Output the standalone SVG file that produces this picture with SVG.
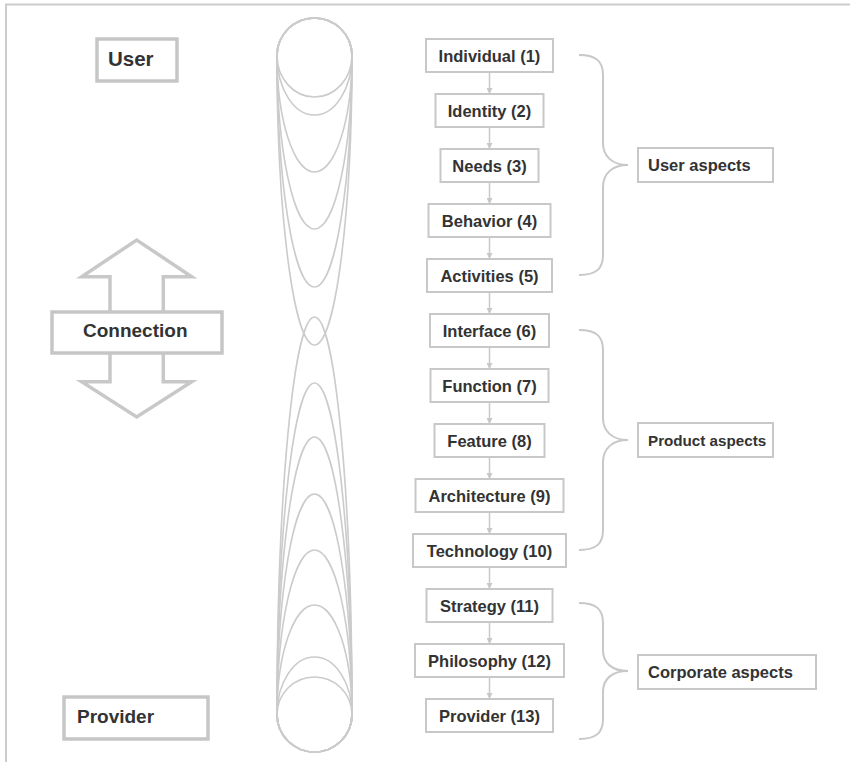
<svg xmlns="http://www.w3.org/2000/svg" width="850" height="762" viewBox="0 0 850 762">
<defs>
<style>
.frame{stroke:#cccccc;stroke-width:2;fill:none}
.ell{fill:none;stroke:#cbcbcb;stroke-width:1.6}
.box{fill:#ffffff;stroke:#c8c8c8;stroke-width:2}
.bigbox{fill:#ffffff;stroke:#c6c6c6;stroke-width:3.5}
.t{font-family:"Liberation Sans",Arial,sans-serif;font-weight:bold;font-size:16.5px;fill:#333333}
.tc{text-anchor:middle}
.tl{font-family:"Liberation Sans",Arial,sans-serif;font-weight:bold;fill:#333333}
.brace{fill:none;stroke:#c8c8c8;stroke-width:2}
.dbl{fill:none;stroke:#c8c8c8;stroke-width:3.5;stroke-linejoin:miter}
.conn{stroke:#c8c8c8;stroke-width:1.5;fill:none}
</style>
<marker id="ah" viewBox="0 0 10 10" refX="10" refY="5" markerWidth="6" markerHeight="6" markerUnits="userSpaceOnUse" orient="auto">
<path d="M0,0 L10,5 L0,10 z" fill="#c8c8c8"/>
</marker>
</defs>
<rect width="850" height="762" fill="#ffffff"/>
<path class="frame" d="M6,762 L6,4.5 L850,4.5"/>

<g id="spindle">
<path class="ell" d="M277,55.5 A37.5,37.5 0 0 1 352,55.5 A37.5,41.5 0 0 1 277,55.5 Z"/>
<path class="ell" d="M277,55.5 A37.5,37.5 0 0 1 352,55.5 A37.5,59.5 0 0 1 277,55.5 Z"/>
<path class="ell" d="M277,55.5 A37.5,37.5 0 0 1 352,55.5 A37.5,116.5 0 0 1 277,55.5 Z"/>
<path class="ell" d="M277,55.5 A37.5,37.5 0 0 1 352,55.5 A37.5,173.5 0 0 1 277,55.5 Z"/>
<path class="ell" d="M277,55.5 A37.5,37.5 0 0 1 352,55.5 A37.5,231.5 0 0 1 277,55.5 Z"/>
<path class="ell" d="M277,55.5 A37.5,37.5 0 0 1 352,55.5 A37.5,289.5 0 0 1 277,55.5 Z"/>
<path class="ell" d="M277,714.5 A37.5,397.5 0 0 1 352,714.5 A37.5,37.5 0 0 1 277,714.5 Z"/>
<path class="ell" d="M277,714.5 A37.5,331.5 0 0 1 352,714.5 A37.5,37.5 0 0 1 277,714.5 Z"/>
<path class="ell" d="M277,714.5 A37.5,277.5 0 0 1 352,714.5 A37.5,37.5 0 0 1 277,714.5 Z"/>
<path class="ell" d="M277,714.5 A37.5,220.5 0 0 1 352,714.5 A37.5,37.5 0 0 1 277,714.5 Z"/>
<path class="ell" d="M277,714.5 A37.5,164.5 0 0 1 352,714.5 A37.5,37.5 0 0 1 277,714.5 Z"/>
<path class="ell" d="M277,714.5 A37.5,109.5 0 0 1 352,714.5 A37.5,37.5 0 0 1 277,714.5 Z"/>
<path class="ell" d="M277,714.5 A37.5,57.5 0 0 1 352,714.5 A37.5,37.5 0 0 1 277,714.5 Z"/>
<circle class="ell" cx="314.5" cy="714.5" r="37.5"/>
</g>

<g id="user">
<rect class="bigbox" x="97" y="39" width="80" height="42"/>
<text class="tl" x="108" y="66" font-size="20.5">User</text>
</g>

<g id="connection">
<polyline class="dbl" points="110,312 110,276.7 81.7,276.7 136.7,240 191.7,276.7 163.3,276.7 163.3,312"/>
<polyline class="dbl" points="110,352.7 110,381.7 81.7,381.7 136.7,417 191.7,381.7 163.3,381.7 163.3,352.7"/>
<rect class="bigbox" x="52" y="312" width="170" height="41" stroke-width="3"/>
<text class="tl" x="83" y="337" font-size="19">Connection</text>
</g>

<g id="provider-left">
<rect class="bigbox" x="64" y="697" width="144" height="42"/>
<text class="tl" x="77" y="723" font-size="19">Provider</text>
</g>

<g id="connectors">
<line class="conn" x1="489.5" y1="72" x2="489.5" y2="94" marker-end="url(#ah)"/>
<line class="conn" x1="489.5" y1="127" x2="489.5" y2="149" marker-end="url(#ah)"/>
<line class="conn" x1="489.5" y1="182" x2="489.5" y2="204" marker-end="url(#ah)"/>
<line class="conn" x1="489.5" y1="237" x2="489.5" y2="259" marker-end="url(#ah)"/>
<line class="conn" x1="489.5" y1="292" x2="489.5" y2="314" marker-end="url(#ah)"/>
<line class="conn" x1="489.5" y1="347" x2="489.5" y2="369" marker-end="url(#ah)"/>
<line class="conn" x1="489.5" y1="402" x2="489.5" y2="424" marker-end="url(#ah)"/>
<line class="conn" x1="489.5" y1="457" x2="489.5" y2="479" marker-end="url(#ah)"/>
<line class="conn" x1="489.5" y1="512" x2="489.5" y2="534" marker-end="url(#ah)"/>
<line class="conn" x1="489.5" y1="567" x2="489.5" y2="589" marker-end="url(#ah)"/>
<line class="conn" x1="489.5" y1="622" x2="489.5" y2="644" marker-end="url(#ah)"/>
<line class="conn" x1="489.5" y1="677" x2="489.5" y2="699" marker-end="url(#ah)"/>
</g>

<g id="n1"><rect class="box" x="426" y="39" width="127" height="33"/><text class="t tc" x="489.5" y="61.5">Individual (1)</text></g>
<g id="n2"><rect class="box" x="435.5" y="94" width="108" height="33"/><text class="t tc" x="489.5" y="116.5">Identity (2)</text></g>
<g id="n3"><rect class="box" x="440.5" y="149" width="98" height="33"/><text class="t tc" x="489.5" y="171.5">Needs (3)</text></g>
<g id="n4"><rect class="box" x="428.5" y="204" width="122" height="33"/><text class="t tc" x="489.5" y="226.5">Behavior (4)</text></g>
<g id="n5"><rect class="box" x="427" y="259" width="125" height="33"/><text class="t tc" x="489.5" y="281.5">Activities (5)</text></g>
<g id="n6"><rect class="box" x="430" y="314" width="119" height="33"/><text class="t tc" x="489.5" y="336.5">Interface (6)</text></g>
<g id="n7"><rect class="box" x="430.5" y="369" width="118" height="33"/><text class="t tc" x="489.5" y="391.5">Function (7)</text></g>
<g id="n8"><rect class="box" x="434.5" y="424" width="110" height="33"/><text class="t tc" x="489.5" y="446.5">Feature (8)</text></g>
<g id="n9"><rect class="box" x="415.5" y="479" width="148" height="33"/><text class="t tc" x="489.5" y="501.5">Architecture (9)</text></g>
<g id="n10"><rect class="box" x="413" y="534" width="153" height="33"/><text class="t tc" x="489.5" y="556.5">Technology (10)</text></g>
<g id="n11"><rect class="box" x="426.5" y="589" width="126" height="33"/><text class="t tc" x="489.5" y="611.5">Strategy (11)</text></g>
<g id="n12"><rect class="box" x="415" y="644" width="149" height="33"/><text class="t tc" x="489.5" y="666.5">Philosophy (12)</text></g>
<g id="n13"><rect class="box" x="426" y="699" width="127" height="33"/><text class="t tc" x="489.5" y="721.5">Provider (13)</text></g>

<g id="user-aspects">
<path class="brace" d="M579,55 C597,55 603,62 603,75 L603,143 C603,156 612,165 628,165 C612,165 603,174 603,187 L603,255 C603,268 597,275 579,275"/>
<rect class="box" x="638" y="148" width="135" height="34"/>
<text class="t" x="648" y="171">User aspects</text>
</g>
<g id="product-aspects">
<path class="brace" d="M579,330 C597,330 603,337 603,350 L603,418 C603,431 612,440 628,440 C612,440 603,449 603,462 L603,530 C603,543 597,550 579,550"/>
<rect class="box" x="638" y="423" width="135" height="34"/>
<text class="t" x="648" y="446" style="font-size:15.2px">Product aspects</text>
</g>
<g id="corporate-aspects">
<path class="brace" d="M579,603 C597,603 603,610 603,623 L603,650 C603,663 612,671 628,671 C612,671 603,679 603,692 L603,719 C603,732 597,739 579,739"/>
<rect class="box" x="638" y="655" width="178" height="34"/>
<text class="t" x="648" y="678">Corporate aspects</text>
</g>
</svg>
